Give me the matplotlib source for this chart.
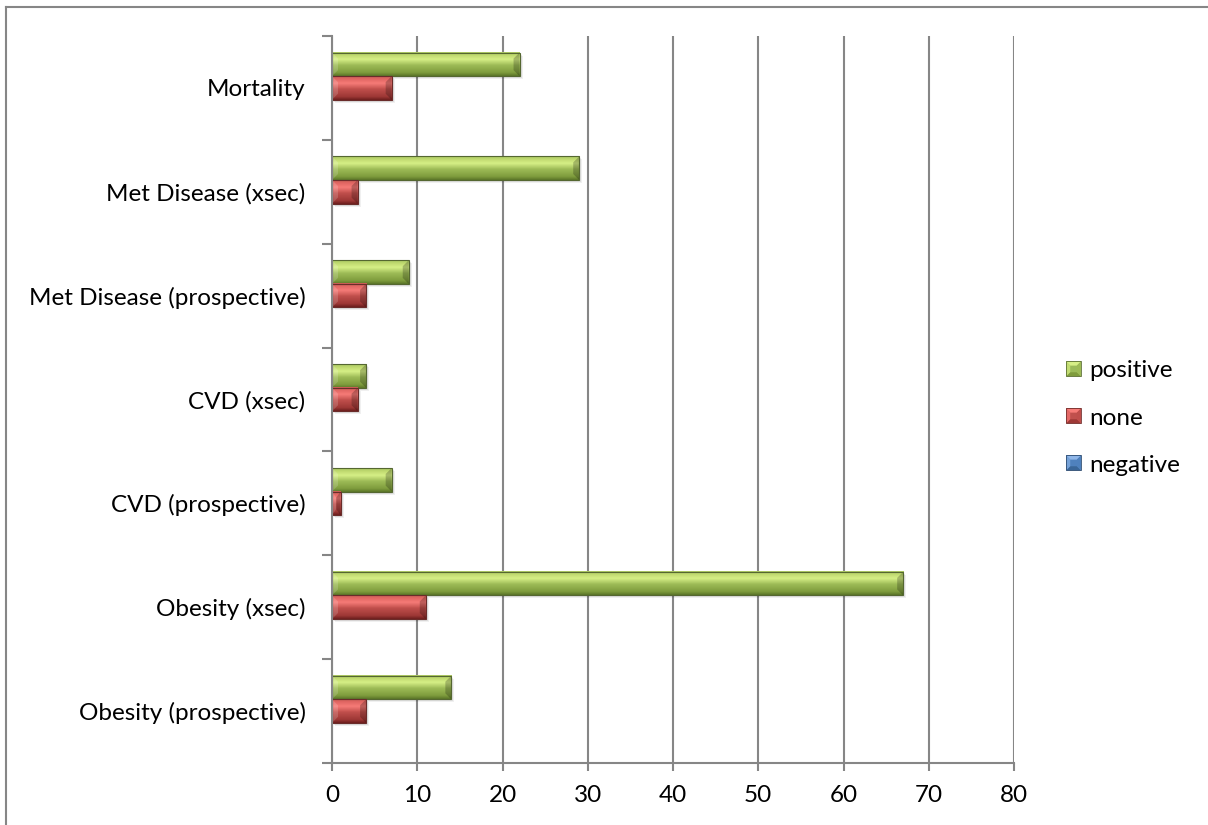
import numpy as np
import matplotlib
matplotlib.use("Agg")
import matplotlib.pyplot as plt
from matplotlib.patches import Polygon, Rectangle
from matplotlib.colors import LinearSegmentedColormap, to_rgb
from matplotlib.legend_handler import HandlerBase
from matplotlib.lines import Line2D
from matplotlib.ticker import FixedLocator

# ---- data -------------------------------------------------------------
categories = ["Obesity (prospective)", "Obesity (xsec)", "CVD (prospective)",
              "CVD (xsec)", "Met Disease (prospective)", "Met Disease (xsec)",
              "Mortality"]
positive = [14, 67, 7, 4, 9, 29, 22]
none = [4, 11, 1, 3, 4, 3, 7]
negative = [0, 0, 0, 0, 0, 0, 0]
series_names = ["positive", "none", "negative"]
x_ticks = [0, 10, 20, 30, 40, 50, 60, 70, 80]

# ---- style ------------------------------------------------------------
plt.rcParams['font.family'] = ['Lato', 'DejaVu Sans']
FS = 17.5
GRAY = "#868686"

base_colors = {"positive": "#9bbb59", "none": "#c0504d", "negative": "#4f81bd"}
# vertical shading of each bar face, bottom -> top
shade_stops = [0.0, 0.14, 0.45, 0.70, 0.86, 1.0]
shades = {
    "positive": ["#5b7628", "#7f9c3d", "#9dbb56", "#d6ef86", "#c2dc72", "#abc762"],
    "none":     ["#6e1f1e", "#9e3836", "#bf4e4b", "#f67b77", "#e46966", "#d45c59"],
    "negative": ["#23476f", "#3a6698", "#4f81bd", "#8fb6e8", "#76a2d8", "#6690c9"],
}

W, H = 1208, 825
fig = plt.figure(figsize=(W / 100, H / 100), dpi=100)
ax = fig.add_axes([332 / W, 1 - 763 / H, (1014 - 332) / W, (763 - 36) / H])

n = len(categories)
y = np.arange(n)
bh = 0.227
offsets = {"positive": bh, "none": 0.0, "negative": -bh}
values = {"positive": positive, "none": none, "negative": negative}

ax.set_xlim(0, 80)
ax.set_ylim(-0.5, n - 0.5)

# data units per pixel, for bevel sizes
px_x = 80 / (1014 - 332)
px_y = n / (763 - 36)


def darker(c, f):
    r, g, b = to_rgb(c)
    return (r * f, g * f, b * f)


def bevel_bar(rect, name):
    x0, y0 = rect.get_x(), rect.get_y()
    w, h = rect.get_width(), rect.get_height()
    if w <= 0:
        return
    x1, y1 = x0 + w, y0 + h
    # soft drop shadow
    for k, a in [(3, 0.06), (2, 0.08), (1, 0.10)]:
        ax.add_patch(Rectangle((x0 + k * px_x, y0 - k * px_y), w, h,
                               facecolor="black", alpha=a, lw=0, zorder=1.8))
    cmap = LinearSegmentedColormap.from_list(
        name, list(zip(shade_stops, shades[name])))
    grad = np.linspace(0, 1, 64).reshape(-1, 1)
    ax.imshow(grad, cmap=cmap, extent=[x0, x1, y0, y1], origin="lower",
              aspect="auto", interpolation="bilinear", zorder=2.1)
    bx = min(6 * px_x, w / 2)
    by = 6 * px_y
    # end bevels
    ax.add_patch(Polygon([(x0, y0), (x0 + bx, y0 + by), (x0 + bx, y1 - by), (x0, y1)],
                         closed=True, facecolor="white", alpha=0.16, lw=0, zorder=2.2))
    ax.add_patch(Polygon([(x1, y0), (x1 - bx, y0 + by), (x1 - bx, y1 - by), (x1, y1)],
                         closed=True, facecolor="black", alpha=0.22, lw=0, zorder=2.2))
    ax.add_patch(Rectangle((x0, y0), w, h, facecolor="none",
                           edgecolor=darker(base_colors[name], 0.55), lw=0.8, zorder=2.3))


for name in series_names:
    bars = ax.barh(y + offsets[name], values[name], height=bh,
                   color=base_colors[name], lw=0, zorder=2)
    for r in bars:
        bevel_bar(r, name)

ax.set_xlim(0, 80)
ax.set_ylim(-0.5, n - 0.5)

# ---- axes -------------------------------------------------------------
ax.set_xticks(x_ticks)
ax.set_xticklabels([str(t) for t in x_ticks], fontsize=FS)
ax.set_yticks(y)
ax.set_yticklabels(categories, fontsize=FS)
ax.yaxis.set_minor_locator(FixedLocator(np.arange(-0.5, n, 1.0)))
ax.tick_params(axis="y", which="major", length=0, pad=19)
ax.tick_params(axis="y", which="minor", length=7, width=1.5, color=GRAY)
ax.tick_params(axis="x", which="major", length=6, width=1.5, color=GRAY, pad=10)
for s in ["top", "right"]:
    ax.spines[s].set_visible(False)
for s in ["left", "bottom"]:
    ax.spines[s].set_color(GRAY)
    ax.spines[s].set_linewidth(1.5)
ax.xaxis.grid(True, color=GRAY, lw=1.5)
ax.set_axisbelow(True)


# ---- legend with bevelled keys ----------------------------------------
class BevelKey(HandlerBase):
    def create_artists(self, legend, orig_handle, xdescent, ydescent,
                       width, height, fontsize, trans):
        name = orig_handle.get_label()
        s = min(width, height)
        x0 = -xdescent + (width - s) / 2
        y0 = -ydescent + (height - s) / 2
        x1, y1 = x0 + s, y0 + s
        b = s * 0.28
        c = base_colors[name]
        arts = [
            Rectangle((x0, y0), s, s, facecolor=c, lw=0),
            Polygon([(x0, y1), (x1, y1), (x1 - b, y1 - b), (x0 + b, y1 - b)],
                    facecolor=shades[name][3], lw=0),
            Polygon([(x0, y0), (x1, y0), (x1 - b, y0 + b), (x0 + b, y0 + b)],
                    facecolor=shades[name][1], lw=0),
            Polygon([(x0, y0), (x0 + b, y0 + b), (x0 + b, y1 - b), (x0, y1)],
                    facecolor=shades[name][4], lw=0),
            Polygon([(x1, y0), (x1 - b, y0 + b), (x1 - b, y1 - b), (x1, y1)],
                    facecolor=shades[name][2], lw=0),
            Rectangle((x0, y0), s, s, facecolor="none",
                      edgecolor=darker(c, 0.6), lw=0.6),
        ]
        for a in arts:
            a.set_transform(trans)
        return arts


handles = [Rectangle((0, 0), 1, 1, label=nm) for nm in series_names]
leg = fig.legend(handles=handles, labels=series_names,
                 handler_map={Rectangle: BevelKey()},
                 loc="center left", bbox_to_anchor=(1066 / W, 1 - 418 / H),
                 frameon=False, fontsize=FS, handlelength=0.62, handleheight=0.62,
                 handletextpad=0.35, labelspacing=1.07, borderpad=0, borderaxespad=0)

# ---- chart-area border ------------------------------------------------
fig.add_artist(Line2D([6 / W, 6 / W], [0, 1 - 7 / H], color=GRAY, lw=1.5))
fig.add_artist(Line2D([6 / W, 1], [1 - 7 / H, 1 - 7 / H], color=GRAY, lw=1.5))

fig.savefig("out.png", dpi=100, facecolor="white")
